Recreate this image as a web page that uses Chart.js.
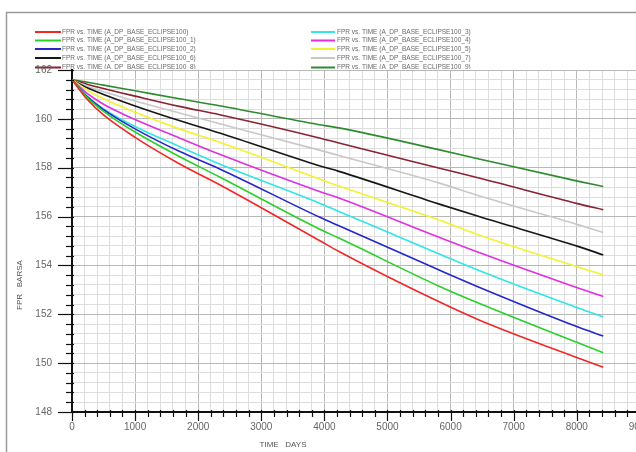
<!DOCTYPE html>
<html>
<head>
<meta charset="utf-8">
<script src="https://cdn.jsdelivr.net/npm/chart.js@4"></script>
<style>
  html, body { margin: 0; padding: 0; background: #fff; overflow: hidden; }
  #wrap { width: 636px; height: 452px; overflow: hidden; }
</style>
</head>
<body>
<div id="wrap"><canvas id="fprChart" width="660" height="452"></canvas></div>
<script>
// 各方案 FPR 随时间变化 (BARSA)
const timeDays = [0, 250, 500, 1000, 1700, 2340, 3920, 4230, 5810, 6450, 8030, 8420];

const fprBase = [161.6, 160.77, 160.16, 159.24, 158.16, 157.30, 155.02, 154.57, 152.52, 151.77, 150.20, 149.83];
const fpr1    = [161.6, 160.85, 160.31, 159.46, 158.46, 157.62, 155.49, 155.12, 153.16, 152.45, 150.82, 150.43];
const fpr2    = [161.6, 160.89, 160.38, 159.59, 158.67, 157.95, 155.98, 155.62, 153.82, 153.11, 151.47, 151.11];
const fpr3    = [161.6, 160.90, 160.41, 159.69, 158.87, 158.15, 156.55, 156.21, 154.48, 153.79, 152.25, 151.90];
const fpr4    = [161.6, 161.02, 160.60, 159.97, 159.22, 158.55, 157.03, 156.76, 155.16, 154.53, 153.07, 152.73];
const fpr5    = [161.6, 161.16, 160.82, 160.27, 159.59, 159.04, 157.54, 157.25, 155.87, 155.25, 153.93, 153.61];
const fpr6    = [161.6, 161.26, 161.00, 160.53, 159.93, 159.42, 158.08, 157.85, 156.52, 156.00, 154.77, 154.43];
const fpr7    = [161.6, 161.33, 161.11, 160.73, 160.24, 159.80, 158.72, 158.50, 157.38, 156.85, 155.66, 155.35];
const fpr8    = [161.6, 161.41, 161.24, 160.93, 160.51, 160.17, 159.22, 159.01, 157.99, 157.58, 156.52, 156.28];
const fpr9    = [161.6, 161.50, 161.38, 161.15, 160.82, 160.54, 159.76, 159.63, 158.74, 158.36, 157.44, 157.23];

const seriesNames = [
  'FPR vs. TIME (A_DP_BASE_ECLIPSE100)',
  'FPR vs. TIME (A_DP_BASE_ECLIPSE100_1)',
  'FPR vs. TIME (A_DP_BASE_ECLIPSE100_2)',
  'FPR vs. TIME (A_DP_BASE_ECLIPSE100_3)',
  'FPR vs. TIME (A_DP_BASE_ECLIPSE100_4)',
  'FPR vs. TIME (A_DP_BASE_ECLIPSE100_5)',
  'FPR vs. TIME (A_DP_BASE_ECLIPSE100_6)',
  'FPR vs. TIME (A_DP_BASE_ECLIPSE100_7)',
  'FPR vs. TIME (A_DP_BASE_ECLIPSE100_8)',
  'FPR vs. TIME (A_DP_BASE_ECLIPSE100_9)'
];
const seriesValues = [fprBase, fpr1, fpr2, fpr3, fpr4, fpr5, fpr6, fpr7, fpr8, fpr9];
const seriesColors = ['#f02828', '#2ad02a', '#2626cc', '#30e6e6', '#e030e0',
                      '#f2f232', '#161616', '#c8c8c8', '#8a2232', '#2e8a2e'];

// 图例两列, 每列五行
const legendLeft = [0, 1, 2, 6, 8];
const legendRight = [3, 4, 5, 7, 9];

const xTickLabels = ['0', '1000', '2000', '3000', '4000', '5000', '6000', '7000', '8000', '9000'];
const yTickLabels = ['148', '150', '152', '154', '156', '158', '160', '162'];

const isMajorX = v => Math.abs(v / 1000 - Math.round(v / 1000)) < 1e-6;
const isMajorY = v => Math.abs(v / 2 - Math.round(v / 2)) < 1e-6;

const decorPlugin = {
  id: 'decor',
  beforeDraw(chart) {
    const ctx = chart.ctx;
    ctx.save();
    ctx.fillStyle = '#fff';
    ctx.fillRect(0, 0, chart.width, chart.height);

    // 外框
    ctx.strokeStyle = '#9a9a9a';
    ctx.lineWidth = 1.5;
    ctx.strokeRect(6.5, 12.5, 700, 500);

    // 图例 (被绘图区顶部遮住一半)
    ctx.beginPath();
    ctx.rect(0, 0, chart.width, chart.chartArea.top - 1);
    ctx.clip();
    ctx.font = '6.5px "Liberation Sans", Arial, sans-serif';
    ctx.textBaseline = 'middle';
    const rows = [32, 40.5, 49, 58, 67.5];
    const drawCol = (list, x0, x1, tx) => {
      list.forEach((idx, r) => {
        ctx.strokeStyle = seriesColors[idx];
        ctx.lineWidth = 2;
        ctx.beginPath();
        ctx.moveTo(x0, rows[r]);
        ctx.lineTo(x1, rows[r]);
        ctx.stroke();
        ctx.fillStyle = '#6a6a6a';
        ctx.fillText(seriesNames[idx], tx, rows[r]);
      });
    };
    drawCol(legendLeft, 35, 61, 62);
    drawCol(legendRight, 311, 335, 337);
    ctx.restore();
  },
  afterDraw(chart) {
    const ctx = chart.ctx;
    const xs = chart.scales.x, ys = chart.scales.y;
    const area = chart.chartArea;
    ctx.save();
    ctx.strokeStyle = '#111';
    ctx.lineWidth = 1.2;
    // x 轴刻度线
    xs.ticks.forEach(t => {
      const px = Math.round(xs.getPixelForValue(t.value)) + 0.5;
      const len = isMajorX(t.value) ? 9 : 5;
      ctx.beginPath();
      ctx.moveTo(px, area.bottom - 2);
      ctx.lineTo(px, area.bottom + len);
      ctx.stroke();
    });
    // y 轴刻度线
    ys.ticks.forEach(t => {
      const py = Math.round(ys.getPixelForValue(t.value)) + 0.5;
      const len = isMajorY(t.value) ? 14 : 6;
      ctx.beginPath();
      ctx.moveTo(area.left - len, py);
      ctx.lineTo(area.left + 2, py);
      ctx.stroke();
    });

    // 坐标轴标题
    ctx.fillStyle = '#555';
    ctx.font = '8px "Liberation Sans", Arial, sans-serif';
    ctx.textAlign = 'center';
    ctx.textBaseline = 'middle';
    ctx.fillText('TIME   DAYS', 283, 445);
    ctx.translate(20, 285);
    ctx.rotate(-Math.PI / 2);
    ctx.fillText('FPR   BARSA', 0, 0);
    ctx.restore();
  }
};

const tickFont = { family: '"Liberation Sans", Arial, sans-serif', size: 10 };

new Chart(document.getElementById('fprChart'), {
  type: 'line',
  data: {
    labels: timeDays,
    datasets: seriesValues.map((vals, i) => ({
      label: seriesNames[i],
      data: timeDays.map((t, k) => ({ x: t, y: vals[k] })),
      borderColor: seriesColors[i],
      borderWidth: 1.6,
      pointRadius: 0,
      fill: false,
      cubicInterpolationMode: 'monotone'
    }))
  },
  options: {
    responsive: false,
    animation: false,
    layout: { padding: { top: 70, right: 18, left: 0, bottom: 0 } },
    plugins: {
      legend: { display: false },
      tooltip: { enabled: false }
    },
    scales: {
      x: {
        type: 'linear',
        min: 0,
        max: 9000,
        afterFit: s => { s.height = 40; },
        border: { color: '#111', width: 2 },
        grid: {
          drawTicks: false,
          lineWidth: 1,
          color: c => isMajorX(c.tick.value) ? '#b8b8b8' : '#dedede'
        },
        ticks: {
          stepSize: 200,
          autoSkip: false,
          maxRotation: 0,
          padding: 9,
          color: '#666',
          font: tickFont,
          callback: v => isMajorX(v) ? xTickLabels[Math.round(v / 1000)] : ''
        }
      },
      y: {
        min: 148,
        max: 162,
        afterFit: s => { s.width = 72; },
        border: { color: '#111', width: 2 },
        grid: {
          drawTicks: false,
          lineWidth: 1,
          color: c => isMajorY(c.tick.value) ? '#b8b8b8' : '#dedede'
        },
        ticks: {
          stepSize: 0.4,
          autoSkip: false,
          padding: 20,
          color: '#666',
          font: tickFont,
          callback: v => isMajorY(v) ? yTickLabels[Math.round((v - 148) / 2)] : ''
        }
      }
    }
  },
  plugins: [decorPlugin]
});
</script>
</body>
</html>
